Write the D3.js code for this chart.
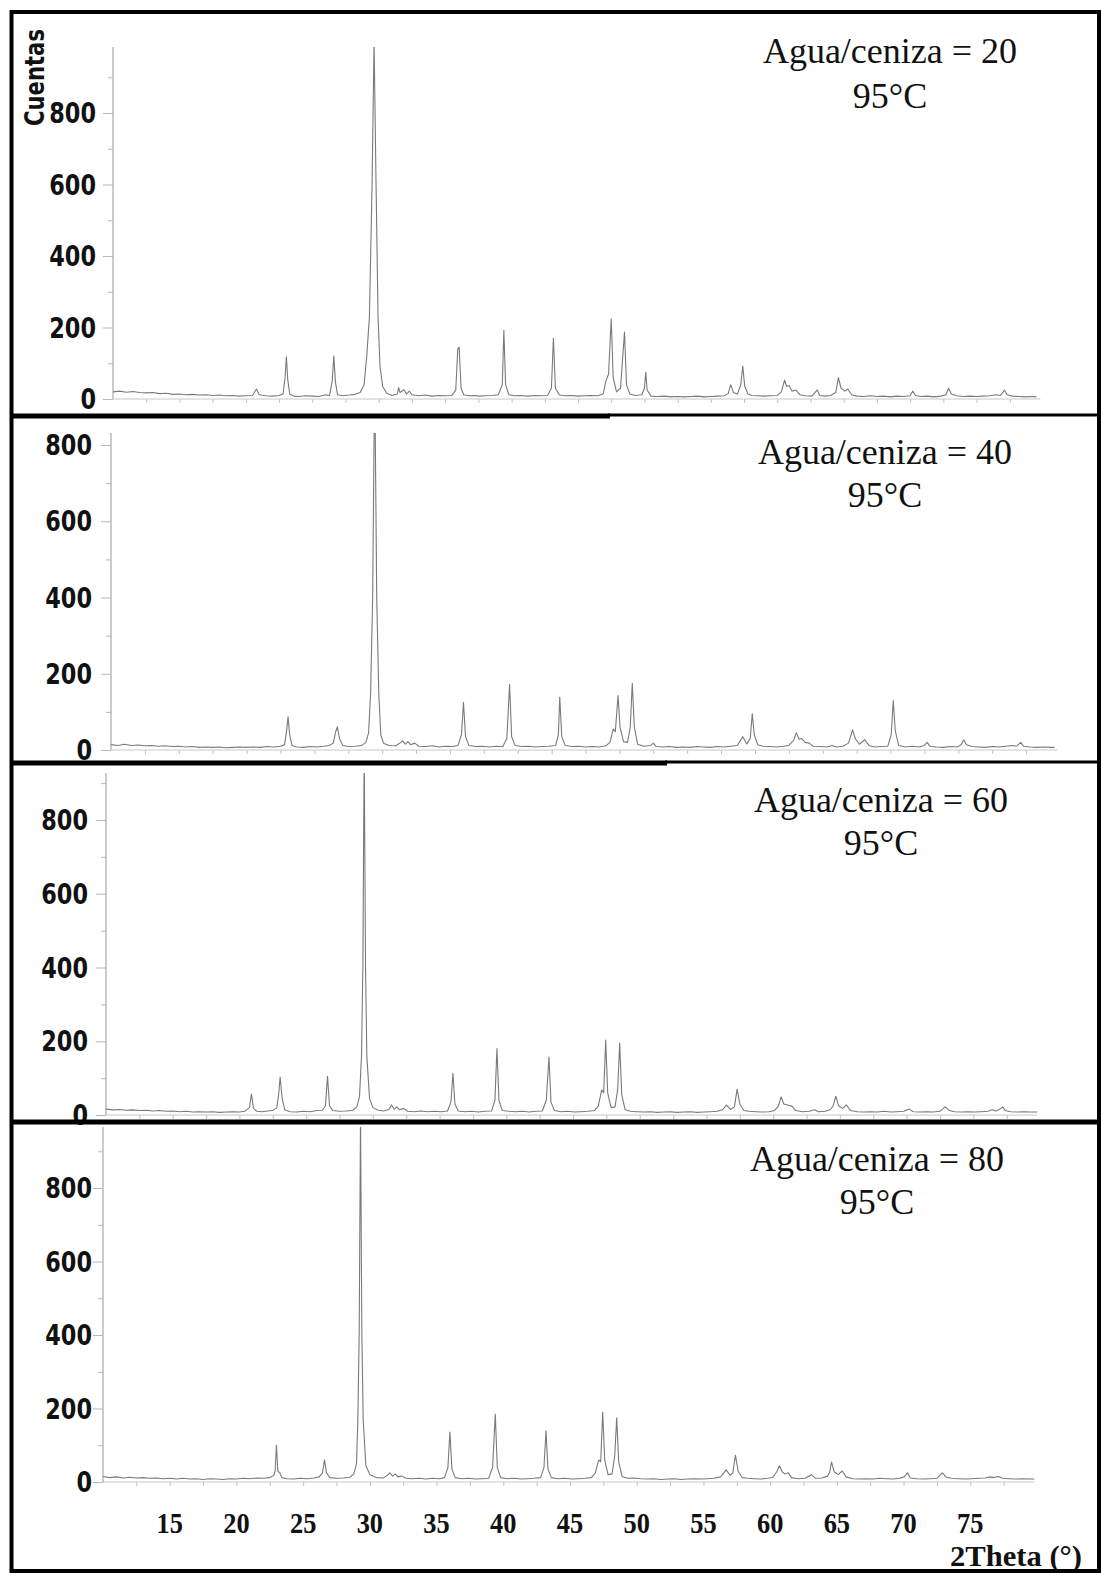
<!DOCTYPE html>
<html><head><meta charset="utf-8">
<script src="https://cdn.jsdelivr.net/npm/d3@7"></script>
<style>body{margin:0;background:#fff} svg{display:block}</style>
</head><body>
<svg id="c" width="1101" height="1573"></svg>
<script>
// ---------- data ----------
const panelTitles = ["Agua/ceniza = 20", "Agua/ceniza = 40", "Agua/ceniza = 60", "Agua/ceniza = 80"];
const tempLabel = "95°C";
const yAxisTitle = "Cuentas";
const xAxisTitle = "2Theta (°)";
const yTickLabels = [0, 200, 400, 600, 800];
const yMinorTicks = [0, 100, 200, 300, 400, 500, 600, 700, 800, 900];
const xTickLabels = [15, 20, 25, 30, 35, 40, 45, 50, 55, 60, 65, 70, 75];
const xMinorTicks = [12.5, 15, 17.5, 20, 22.5, 25, 27.5, 30, 32.5, 35, 37.5, 40, 42.5, 45, 47.5, 50, 52.5, 55, 57.5, 60, 62.5, 65, 67.5, 70, 72.5, 75, 77.5];

// [2theta, counts]
const seriesA20 = [[10,20],[10.5,22],[11,19],[11.5,21],[12,18],[12.5,17],[13,18],[13.5,15],[14,16],[14.5,13],[15,14],[15.5,12],[16,13],[16.5,11],[17,12],[17.5,10],[18,11],[18.5,9],[19,10],[19.5,8],[20,9],[20.5,10],[20.8,28],[21,12],[21.5,9],[22,8],[22.5,10],[22.8,14],[22.95,60],[23.05,118],[23.15,55],[23.3,14],[23.6,8],[24,7],[24.5,9],[25,8],[25.5,7],[26,12],[26.3,10],[26.5,50],[26.62,120],[26.75,45],[26.9,12],[27.3,9],[27.8,11],[28.2,13],[28.6,18],[28.9,40],[29.1,120],[29.3,230],[29.5,600],[29.65,1000],[29.8,600],[29.95,230],[30.1,90],[30.3,35],[30.6,16],[31,10],[31.4,14],[31.5,32],[31.6,18],[31.9,26],[32.1,14],[32.3,22],[32.5,12],[33,9],[33.5,11],[34,8],[34.5,10],[35,9],[35.5,10],[35.8,25],[35.95,140],[36.05,145],[36.2,30],[36.4,12],[36.8,9],[37.2,10],[37.6,8],[38,9],[38.5,10],[39,12],[39.3,40],[39.42,192],[39.55,40],[39.8,12],[40.2,9],[40.7,10],[41.2,8],[41.7,10],[42.2,9],[42.7,10],[43,30],[43.15,170],[43.3,30],[43.6,11],[44,9],[44.5,10],[45,8],[45.5,9],[46,10],[46.5,9],[46.9,15],[47.1,50],[47.3,70],[47.5,224],[47.65,60],[47.9,20],[48.2,30],[48.5,187],[48.65,40],[48.9,14],[49.3,10],[49.8,12],[50,30],[50.1,75],[50.2,25],[50.5,8],[51,7],[51.5,8],[52,6],[52.5,7],[53,6],[53.5,7],[54,8],[54.5,6],[55,7],[55.5,8],[56,9],[56.3,15],[56.5,40],[56.7,18],[57,14],[57.25,40],[57.4,92],[57.55,35],[57.8,14],[58.1,10],[58.5,9],[59,8],[59.5,9],[60,10],[60.3,20],[60.55,53],[60.7,35],[60.9,38],[61.1,22],[61.4,25],[61.7,12],[62.1,9],[62.6,8],[63,25],[63.2,10],[63.6,8],[64,10],[64.4,18],[64.6,60],[64.8,30],[65.1,22],[65.3,28],[65.6,12],[66,8],[66.5,7],[67,9],[67.5,7],[68,8],[68.5,6],[69,8],[69.5,7],[70,9],[70.2,22],[70.4,10],[70.8,7],[71.3,8],[71.8,6],[72.3,8],[72.7,12],[72.9,30],[73.1,14],[73.5,9],[74,7],[74.5,8],[75,7],[75.5,8],[76,9],[76.5,12],[76.8,10],[77.1,25],[77.3,12],[77.7,8],[78.2,7],[78.7,6],[79.2,7],[79.5,6]];

const seriesA40 = [[10,14],[10.5,12],[11,15],[11.5,12],[12,13],[12.5,11],[13,12],[13.5,10],[14,11],[14.5,9],[15,10],[15.5,8],[16,9],[16.5,7],[17,8],[17.5,7],[18,8],[18.5,6],[19,7],[19.5,8],[20,7],[20.5,8],[21,7],[21.5,9],[22,8],[22.5,10],[22.8,14],[22.95,50],[23.06,87],[23.18,40],[23.35,12],[23.7,8],[24.2,7],[24.7,9],[25.2,8],[25.7,10],[26.1,12],[26.4,18],[26.55,45],[26.7,61],[26.85,30],[27.1,12],[27.5,9],[28,10],[28.5,12],[28.8,20],[29,45],[29.15,150],[29.3,400],[29.45,1000],[29.6,400],[29.75,150],[29.9,40],[30.1,18],[30.5,12],[31,11],[31.3,18],[31.5,24],[31.7,15],[31.9,22],[32.1,14],[32.4,18],[32.7,10],[33.2,9],[33.7,11],[34.2,8],[34.7,10],[35.2,9],[35.6,12],[35.85,40],[36,125],[36.15,35],[36.4,12],[36.9,9],[37.4,10],[37.9,8],[38.4,10],[38.9,9],[39.2,30],[39.4,172],[39.55,35],[39.8,12],[40.3,9],[40.8,10],[41.3,8],[41.8,9],[42.3,10],[42.8,12],[43,40],[43.1,138],[43.25,35],[43.5,12],[44,9],[44.5,10],[45,8],[45.5,9],[46,8],[46.5,11],[46.8,20],[47.05,55],[47.2,48],[47.4,143],[47.55,60],[47.8,22],[48.1,20],[48.3,60],[48.45,175],[48.6,60],[48.85,15],[49.3,10],[49.8,12],[50,18],[50.2,9],[50.7,8],[51.2,9],[51.7,7],[52.2,8],[52.7,7],[53.2,9],[53.7,8],[54.2,7],[54.7,9],[55.2,8],[55.7,10],[56.2,12],[56.6,35],[56.9,16],[57.15,30],[57.3,95],[57.45,40],[57.7,14],[58.1,10],[58.6,9],[59.1,8],[59.6,10],[60,12],[60.35,25],[60.55,45],[60.75,28],[60.95,30],[61.2,20],[61.5,18],[61.8,10],[62.3,9],[62.8,8],[63.2,12],[63.5,8],[64,10],[64.4,18],[64.7,53],[64.9,30],[65.2,15],[65.6,27],[65.9,12],[66.3,8],[66.8,9],[67.3,10],[67.55,40],[67.7,130],[67.85,50],[68.1,12],[68.6,8],[69.1,10],[69.6,8],[70,12],[70.2,20],[70.4,10],[70.9,8],[71.4,7],[71.9,9],[72.4,8],[72.7,14],[72.9,27],[73.1,14],[73.5,9],[74,8],[74.5,7],[75,9],[75.5,8],[76,10],[76.5,12],[76.8,10],[77.1,20],[77.3,10],[77.8,8],[78.3,7],[78.8,8],[79.3,7],[79.6,7]];

const seriesA60 = [[10,16],[10.5,14],[11,15],[11.5,13],[12,14],[12.5,12],[13,13],[13.5,11],[14,12],[14.5,10],[15,11],[15.5,9],[16,10],[16.5,8],[17,9],[17.5,8],[18,9],[18.5,7],[19,8],[19.5,9],[20,8],[20.4,10],[20.75,20],[20.9,57],[21.05,18],[21.3,10],[21.7,9],[22.1,11],[22.5,12],[22.8,20],[22.95,60],[23.05,103],[23.2,45],[23.4,14],[23.8,9],[24.3,8],[24.8,10],[25.3,9],[25.8,12],[26.2,13],[26.45,25],[26.6,105],[26.75,25],[27,12],[27.5,10],[28,11],[28.5,13],[28.8,22],[29,50],[29.15,160],[29.25,400],[29.35,1000],[29.45,400],[29.55,160],[29.75,45],[30,20],[30.4,13],[30.8,11],[31.2,15],[31.4,27],[31.6,16],[31.8,22],[32,14],[32.3,18],[32.6,10],[33.1,9],[33.6,11],[34.1,9],[34.6,10],[35.1,9],[35.6,11],[35.85,35],[36,113],[36.15,30],[36.4,11],[36.9,9],[37.4,10],[37.9,8],[38.4,10],[38.9,11],[39.15,40],[39.3,180],[39.45,40],[39.7,12],[40.2,10],[40.7,9],[41.2,10],[41.7,8],[42.2,10],[42.7,11],[43,40],[43.2,157],[43.35,35],[43.6,12],[44.1,9],[44.6,10],[45.1,8],[45.6,9],[46.1,10],[46.6,12],[46.9,25],[47.15,68],[47.3,60],[47.45,203],[47.6,60],[47.85,20],[48.15,22],[48.35,70],[48.5,195],[48.65,55],[48.9,15],[49.3,10],[49.8,9],[50.3,8],[50.8,9],[51.3,7],[51.8,8],[52.3,9],[52.8,7],[53.3,8],[53.8,9],[54.3,7],[54.8,8],[55.3,9],[55.8,10],[56.2,14],[56.5,27],[56.8,15],[57.1,22],[57.3,70],[57.5,30],[57.8,12],[58.2,10],[58.7,9],[59.2,8],[59.7,9],[60.1,12],[60.4,25],[60.6,49],[60.8,30],[61,28],[61.4,24],[61.7,12],[62.2,9],[62.7,10],[63.1,14],[63.4,9],[63.9,10],[64.3,15],[64.5,25],[64.7,51],[64.9,25],[65.2,18],[65.5,27],[65.8,12],[66.3,9],[66.8,8],[67.3,9],[67.8,8],[68.3,10],[68.8,8],[69.3,9],[69.8,10],[70.2,16],[70.5,9],[71,8],[71.5,9],[72,8],[72.5,10],[72.9,22],[73.2,12],[73.6,9],[74.1,8],[74.6,9],[75.1,8],[75.6,9],[76.1,10],[76.4,14],[76.7,11],[77,16],[77.2,22],[77.4,12],[77.8,9],[78.3,8],[78.8,9],[79.3,8],[79.8,8]];

const seriesA80 = [[10,15],[10.5,12],[11,14],[11.5,11],[12,13],[12.5,11],[13,12],[13.5,10],[14,11],[14.5,9],[15,10],[15.5,8],[16,10],[16.5,8],[17,9],[17.5,7],[18,9],[18.5,8],[19,7],[19.5,9],[20,8],[20.5,10],[21,9],[21.5,11],[22,10],[22.5,12],[22.8,18],[22.9,30],[23,100],[23.1,30],[23.25,25],[23.4,12],[23.8,9],[24.3,8],[24.8,10],[25.3,9],[25.8,11],[26.2,14],[26.45,25],[26.6,60],[26.75,25],[27,12],[27.5,10],[28,11],[28.5,13],[28.8,22],[29,50],[29.1,170],[29.2,400],[29.3,1000],[29.4,400],[29.5,170],[29.7,45],[30,20],[30.5,12],[31,11],[31.3,18],[31.5,25],[31.7,16],[31.9,22],[32.1,14],[32.4,16],[32.7,10],[33.2,9],[33.7,10],[34.2,8],[34.7,10],[35.2,9],[35.6,12],[35.85,40],[36,136],[36.15,35],[36.4,12],[36.9,9],[37.4,10],[37.9,8],[38.4,9],[38.9,10],[39.2,40],[39.4,185],[39.55,40],[39.8,12],[40.3,9],[40.8,10],[41.3,8],[41.8,9],[42.3,10],[42.8,12],[43.05,40],[43.2,139],[43.35,35],[43.6,12],[44.1,9],[44.6,10],[45.1,8],[45.6,9],[46.1,10],[46.6,12],[46.9,25],[47.15,60],[47.3,55],[47.45,190],[47.6,60],[47.85,20],[48.15,22],[48.35,70],[48.5,175],[48.65,55],[48.9,15],[49.3,10],[49.8,11],[50.3,9],[50.8,8],[51.3,9],[51.8,7],[52.3,8],[52.8,9],[53.3,7],[53.8,8],[54.3,9],[54.8,8],[55.3,9],[55.8,10],[56.3,14],[56.7,33],[57,18],[57.2,25],[57.4,73],[57.6,30],[57.9,12],[58.3,10],[58.8,9],[59.3,8],[59.8,10],[60.2,13],[60.5,28],[60.7,44],[60.9,28],[61.1,22],[61.35,25],[61.6,12],[62.1,9],[62.6,10],[63.1,20],[63.4,10],[63.9,11],[64.3,16],[64.45,25],[64.6,54],[64.8,28],[65.1,20],[65.4,30],[65.7,14],[66.2,9],[66.7,8],[67.2,9],[67.7,8],[68.2,10],[68.7,9],[69.2,8],[69.7,10],[70.05,14],[70.3,25],[70.5,11],[71,9],[71.5,8],[72,9],[72.5,10],[72.9,25],[73.2,13],[73.6,10],[74.1,9],[74.6,8],[75.1,9],[75.6,10],[76.1,11],[76.5,14],[76.8,12],[77,15],[77.2,14],[77.4,10],[77.9,9],[78.4,8],[78.9,9],[79.4,8],[79.8,8]];

const allSeries = [seriesA20, seriesA40, seriesA60, seriesA80];

// ---------- layout (pixel positions, per scanned panel) ----------
const layout = [
  {x10:113, x80:1043, base:399,  y800:113,  top:47,   lab:17, tx:890, t1:63,   t2:108},
  {x10:111, x80:1060, base:750,  y800:445,  top:433,  lab:19, tx:885, t1:464,  t2:507},
  {x10:106, x80:1040, base:1115, y800:820,  top:773,  lab:18, tx:881, t1:812,  t2:855},
  {x10:103, x80:1037, base:1482, y800:1188, top:1127, lab:11, tx:877, t1:1171, t2:1214}
];

const svg = d3.select("#c");
svg.append("rect").attr("width",1101).attr("height",1573).attr("fill","#fff");

const defs = svg.append("defs");

layout.forEach((L, i) => {
  const x = d3.scaleLinear().domain([10, 80]).range([L.x10, L.x80]);
  const y = d3.scaleLinear().domain([0, 800]).range([L.base, L.y800]);
  const g = svg.append("g");

  defs.append("clipPath").attr("id","clip"+i)
    .append("rect").attr("x", L.x10 - 2).attr("y", L.top)
    .attr("width", L.x80 - L.x10 + 6).attr("height", L.base - L.top + 12);

  // y axis ticks
  const yt = yMinorTicks.filter(v => y(v) >= L.top - 1);
  const ya = g.append("g").attr("transform", `translate(${L.x10},0)`)
    .call(d3.axisLeft(y).tickValues(yt).tickSize(5).tickFormat(""));
  ya.select(".domain").remove();
  ya.selectAll(".tick line")
    .attr("x2", d => (d % 200 === 0 ? -10 : -5))
    .attr("stroke", "#b8b8b8").attr("stroke-width", 1);

  // x axis ticks
  const xa = g.append("g").attr("transform", `translate(0,${L.base})`)
    .call(d3.axisBottom(x).tickValues(xMinorTicks).tickSize(4).tickFormat(""));
  xa.select(".domain").remove();
  xa.selectAll(".tick line").attr("stroke", "#c0c0c0");

  // axis lines
  g.append("line").attr("x1", L.x10).attr("x2", L.x10).attr("y1", L.top).attr("y2", L.base)
    .attr("stroke", "#a8a8a8").attr("stroke-width", 1.2);
  g.append("line").attr("x1", L.x10).attr("x2", x(79.8)).attr("y1", L.base).attr("y2", L.base)
    .attr("stroke", "#c8c8c8").attr("stroke-width", 1);

  // spectrum
  const line = d3.line().x(d => x(d[0])).y(d => y(d[1]));
  g.append("path").datum(allSeries[i])
    .attr("clip-path", `url(#clip${i})`)
    .attr("d", line)
    .attr("fill", "none").attr("stroke", "#7a7a7a").attr("stroke-width", 1.1)
    .attr("stroke-linejoin", "round");

  // y labels
  g.selectAll("text.yl").data(yTickLabels).enter().append("text")
    .attr("class","yl")
    .attr("transform", d => `translate(${L.x10 - L.lab},${y(d)}) scale(0.8,1)`)
    .attr("dy", "0.36em")
    .attr("text-anchor", "end")
    .attr("font-family", "'DejaVu Sans', Verdana, sans-serif")
    .attr("font-weight", "bold").attr("font-size", 28).attr("fill", "#111")
    .text(d => d);

  // titles
  g.append("text").attr("x", L.tx).attr("y", L.t1).attr("text-anchor","middle")
    .attr("font-family","'Liberation Serif', 'Times New Roman', serif").attr("font-size",36)
    .attr("fill","#111").text(panelTitles[i]);
  g.append("text").attr("x", L.tx).attr("y", L.t2).attr("text-anchor","middle")
    .attr("font-family","'Liberation Serif', 'Times New Roman', serif").attr("font-size",36)
    .attr("fill","#111").text(tempLabel);

  // x tick labels on last panel
  if (i === layout.length - 1) {
    g.selectAll("text.xl").data(xTickLabels).enter().append("text")
      .attr("class","xl")
      .attr("transform", d => `translate(${x(d)},1533) scale(0.88,1)`)
      .attr("text-anchor","middle")
      .attr("font-family","'Liberation Serif', 'Times New Roman', serif")
      .attr("font-weight","bold").attr("font-size",30).attr("fill","#111")
      .text(d => d);
  }
});

// axis titles
svg.append("text")
  .attr("transform", "translate(44,126) rotate(-90)")
  .attr("textLength", 97).attr("lengthAdjust","spacingAndGlyphs")
  .attr("font-family","'DejaVu Sans', Verdana, sans-serif")
  .attr("font-weight","bold").attr("font-size",26).attr("fill","#111")
  .text(yAxisTitle);

svg.append("text")
  .attr("x", 1082).attr("y", 1566).attr("text-anchor","end")
  .attr("font-family","'Liberation Serif', 'Times New Roman', serif")
  .attr("font-weight","bold").attr("font-size",30).attr("fill","#111")
  .attr("textLength", 132).attr("lengthAdjust","spacingAndGlyphs")
  .text(xAxisTitle);

// frame and separators
const fr = svg.append("g").attr("stroke","#000").attr("fill","none");
fr.append("rect").attr("x",11.5).attr("y",12).attr("width",1087.5).attr("height",1559).attr("stroke-width",4);
fr.append("line").attr("x1",10).attr("x2",610).attr("y1",416).attr("y2",416).attr("stroke-width",5);
fr.append("line").attr("x1",608).attr("x2",1100).attr("y1",415).attr("y2",415).attr("stroke-width",3);
fr.append("line").attr("x1",10).attr("x2",667).attr("y1",763).attr("y2",763).attr("stroke-width",5);
fr.append("line").attr("x1",665).attr("x2",1100).attr("y1",762).attr("y2",762).attr("stroke-width",3);
fr.append("line").attr("x1",10).attr("x2",1100).attr("y1",1122).attr("y2",1122).attr("stroke-width",5);
</script>
</body></html>
